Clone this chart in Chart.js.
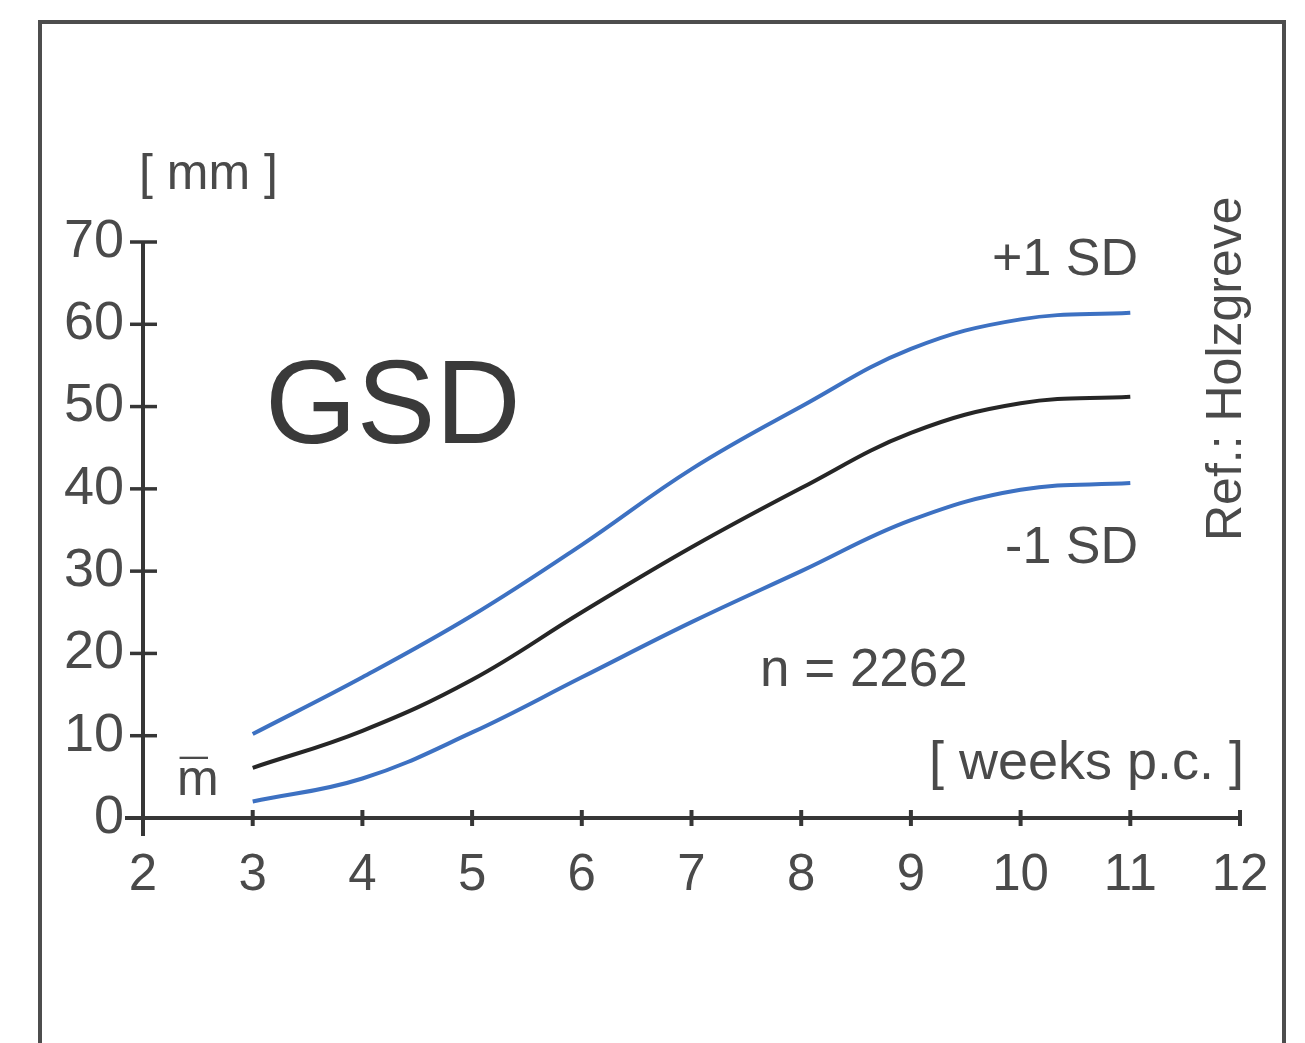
<!DOCTYPE html>
<html><head><meta charset="utf-8">
<script src="https://cdn.jsdelivr.net/npm/chart.js@4.4.1/dist/chart.umd.min.js"></script>
<style>html,body{margin:0;padding:0;background:#fff;overflow:hidden}canvas{display:block}</style>
</head><body>
<canvas id="c" width="1305" height="1043" style="width:1305px;height:1043px"></canvas>
<script>
// ---- data ----
const weeks   = [3, 4, 5, 6, 7, 8, 9, 10, 11];
const meanGSD = [6.1, 10.6, 16.8, 25.0, 32.9, 40.1, 46.8, 50.4, 51.2];
const plusSD  = [10.2, 17.1, 24.6, 33.2, 42.4, 50.0, 57.0, 60.6, 61.4];
const minusSD = [2.0, 4.8, 10.4, 17.1, 23.8, 30.0, 36.2, 39.9, 40.7];
const xTicks  = [2, 3, 4, 5, 6, 7, 8, 9, 10, 11, 12];
const yTicks  = [0, 10, 20, 30, 40, 50, 60, 70];

const FONT  = '"Liberation Sans", Arial, Helvetica, sans-serif';
const TEXT  = '#4a4a4a';
const AXIS  = '#363636';
const BLUE  = '#3d71c2';
const BLACK = '#262626';

function pts(vals) { return weeks.map((w, i) => ({ x: w, y: vals[i] })); }

const decor = {
  id: 'decor',
  beforeDraw(chart) {
    const ctx = chart.ctx;
    ctx.save();
    ctx.fillStyle = '#ffffff';
    ctx.fillRect(0, 0, chart.width, chart.height);
    ctx.strokeStyle = '#4d4d4d';
    ctx.lineWidth = 4;
    ctx.strokeRect(40, 22, 1244, 1100);
    ctx.restore();
  },
  beforeDatasetsDraw(chart) {
    const ctx = chart.ctx, xs = chart.scales.x, ys = chart.scales.y;
    const x0 = xs.getPixelForValue(xTicks[0]);
    const y0 = ys.getPixelForValue(yTicks[0]);
    ctx.save();
    ctx.strokeStyle = AXIS;
    ctx.lineCap = 'butt';
    ctx.lineWidth = 4;
    ctx.beginPath();
    ctx.moveTo(x0, ys.getPixelForValue(yTicks[yTicks.length - 1]));
    ctx.lineTo(x0, y0 + 18);
    ctx.stroke();
    ctx.beginPath();
    ctx.moveTo(x0 - 18, y0);
    ctx.lineTo(xs.getPixelForValue(xTicks[xTicks.length - 1]), y0);
    ctx.stroke();
    ctx.lineWidth = 3.5;
    yTicks.slice(1).forEach(v => {
      const y = ys.getPixelForValue(v);
      ctx.beginPath(); ctx.moveTo(x0 - 13, y); ctx.lineTo(x0 + 14, y); ctx.stroke();
    });
    ctx.lineWidth = 4;
    xTicks.slice(1).forEach(v => {
      const x = xs.getPixelForValue(v);
      ctx.beginPath(); ctx.moveTo(x, y0 - 8); ctx.lineTo(x, y0 + 8); ctx.stroke();
    });
    ctx.restore();
  },
  afterDraw(chart) {
    const ctx = chart.ctx;
    ctx.save();
    ctx.fillStyle = TEXT;
    ctx.textBaseline = 'alphabetic';
    ctx.textAlign = 'left';
    ctx.font = '50px ' + FONT;
    ctx.fillText('[ mm ]', 139, 189);
    ctx.fillStyle = '#3a3a3a';
    ctx.font = '118px ' + FONT;
    ctx.fillText('GSD', 265, 443);
    ctx.fillStyle = TEXT;
    ctx.font = '52px ' + FONT;
    ctx.textAlign = 'right';
    ctx.fillText('+1 SD', 1138, 275);
    ctx.fillText('-1 SD', 1138, 563);
    ctx.font = '54px ' + FONT;
    ctx.fillText('[ weeks p.c. ]', 1244, 779);
    ctx.textAlign = 'left';
    ctx.font = '53px ' + FONT;
    ctx.fillText('n = 2262', 760, 686);
    ctx.font = '50px ' + FONT;
    ctx.fillText('m', 177, 795);
    ctx.fillText('\u00AF', 180, 795);
    ctx.save();
    ctx.translate(1241, 541);
    ctx.rotate(-Math.PI / 2);
    ctx.font = '50px ' + FONT;
    ctx.textAlign = 'left';
    ctx.fillText('Ref.: Holzgreve', 0, 0);
    ctx.restore();
    ctx.restore();
  }
};

new Chart(document.getElementById('c'), {
  type: 'line',
  data: {
    datasets: [
      { label: '+1 SD', data: pts(plusSD),  borderColor: BLUE,  borderWidth: 4 },
      { label: 'm',     data: pts(meanGSD), borderColor: BLACK, borderWidth: 4 },
      { label: '-1 SD', data: pts(minusSD), borderColor: BLUE,  borderWidth: 4 }
    ]
  },
  options: {
    responsive: false,
    devicePixelRatio: 1,
    animation: false,
    events: [],
    elements: {
      point: { radius: 0 },
      line: { tension: 0.4, fill: false, borderCapStyle: 'butt' }
    },
    layout: { padding: { left: 0, right: 65, top: 242, bottom: 0 } },
    plugins: { legend: { display: false }, tooltip: { enabled: false } },
    scales: {
      x: {
        type: 'linear', min: 2, max: 12,
        afterBuildTicks: s => { s.ticks = xTicks.map(v => ({ value: v })); },
        afterFit: s => { s.height = 225; },
        grid: { display: false, drawTicks: false },
        border: { display: false },
        ticks: { color: TEXT, font: { family: FONT, size: 51 }, padding: 27, maxRotation: 0, autoSkip: false }
      },
      y: {
        type: 'linear', min: 0, max: 70,
        afterBuildTicks: s => { s.ticks = yTicks.map(v => ({ value: v })); },
        afterFit: s => { s.width = 143; },
        grid: { display: false, drawTicks: false },
        border: { display: false },
        ticks: { color: TEXT, font: { family: FONT, size: 54 }, padding: 19, autoSkip: false }
      }
    }
  },
  plugins: [decor]
});
</script>
</body></html>
